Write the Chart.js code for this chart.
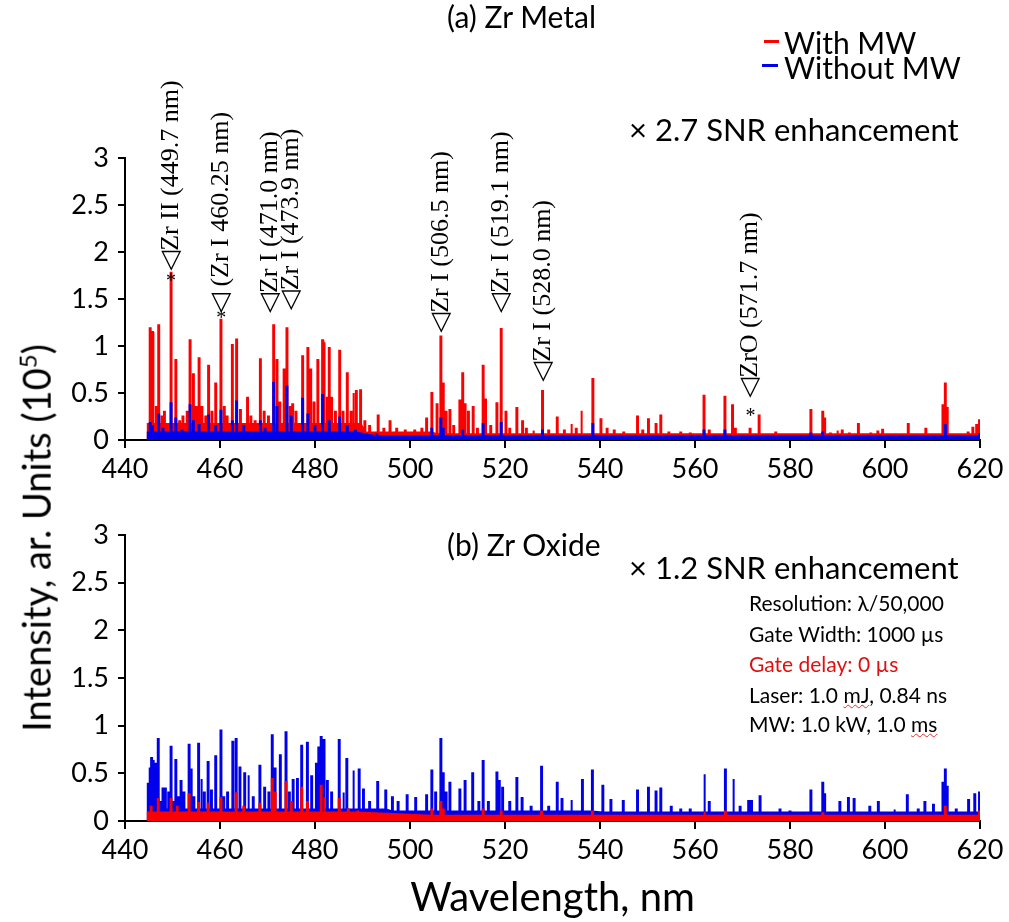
<!DOCTYPE html>
<html>
<head>
<meta charset="utf-8">
<script src="https://cdn.jsdelivr.net/npm/chart.js@4.4.1/dist/chart.umd.min.js"></script>
<style>
  body { margin: 0; background: #fff; width: 1009px; height: 922px; position: relative; overflow: hidden; font-family: Lato, sans-serif; }
  canvas { position: absolute; left: 0; }
  #topChart { top: 0; }
  #botChart { top: 480px; }
  .txt { position: absolute; white-space: nowrap; color: #000; line-height: 1; }
  .key { position: absolute; height: 3px; }
  .wavy { text-decoration: underline wavy #e03030; text-decoration-thickness: 1px; }
</style>
</head>
<body>
<canvas id="topChart" width="1009" height="480"></canvas>
<canvas id="botChart" width="1009" height="442"></canvas>

<div class="txt" style="left:447px;top:1px;font-size:30px;">(a) Zr Metal</div>
<div class="key" style="left:764px;top:40px;width:15px;background:#f00;"></div>
<div class="txt" style="left:784px;top:27px;font-size:30px;">With MW</div>
<div class="key" style="left:762px;top:64px;width:16px;background:#00e;"></div>
<div class="txt" style="left:784px;top:52px;font-size:30px;">Without MW</div>
<div class="txt" style="left:629px;top:114px;font-size:31px;">× 2.7 SNR enhancement</div>

<div class="txt" style="left:447px;top:529px;font-size:30px;">(b) Zr Oxide</div>
<div class="txt" style="left:629px;top:552px;font-size:31px;">× 1.2 SNR enhancement</div>
<div class="txt" style="left:749px;top:592px;font-size:21px;">Resolution: λ/50,000</div>
<div class="txt" style="left:749px;top:623px;font-size:21px;">Gate Width: 1000 µs</div>
<div class="txt" style="left:749px;top:653px;font-size:21px;color:#e01010;">Gate delay: 0 µs</div>
<div class="txt" style="left:749px;top:684px;font-size:21px;">Laser: 1.0 <span class="wavy">mJ</span>, 0.84 ns</div>
<div class="txt" style="left:749px;top:713px;font-size:21px;">MW: 1.0 kW, 1.0 <span class="wavy">ms</span></div>

<div class="txt" style="left:35px;top:538px;font-size:38px;transform:translate(-50%,-50%) rotate(-90deg);">Intensity, ar. Units (10<sup style="font-size:24px;">5</sup>)</div>

<script>
const wlMin = 440;
const wlMax = 620;
const wlStart = 444.8;
const yTicks = [0, 0.5, 1, 1.5, 2, 2.5, 3];

// (a) Zr metal, with MW: line centres (nm) and heights (10^5)
const metalWithWl = [445.3, 445.8, 446.0, 446.6, 447.1, 447.8, 448.3, 449.7, 450.7, 451.5, 452.2, 453.1, 453.7, 454.4, 455.0, 455.6, 456.2, 457.0, 457.6, 458.3, 459.1, 460.2, 460.9, 461.5, 462.6, 463.5, 464.3, 465.8, 466.5, 467.4, 468.5, 469.3, 470.2, 471.3, 472.0, 472.6, 473.5, 474.1, 474.8, 475.3, 476.0, 477.4, 478.5, 479.1, 479.8, 480.6, 481.6, 481.9, 482.6, 483.0, 483.5, 484.3, 485.2, 485.9, 486.8, 487.6, 488.1, 488.7, 489.6, 490.5, 491.5, 493.3, 494.5, 495.8, 497.2, 499.0, 501.0, 502.5, 503.5, 504.6, 505.7, 506.5, 507.0, 507.6, 508.4, 509.2, 510.5, 511.1, 511.6, 512.3, 513.3, 514.2, 515.4, 515.9, 517.0, 518.3, 519.2, 520.2, 521.0, 522.5, 523.7, 524.5, 526.0, 527.9, 529.2, 531.0, 532.5, 534.0, 535.0, 536.1, 538.5, 540.2, 541.5, 543.0, 545.0, 547.9, 549.0, 550.2, 551.8, 552.8, 554.5, 557.0, 559.0, 561.9, 563.0, 566.3, 567.9, 568.5, 571.6, 573.5, 577.0, 578.0, 580.5, 584.4, 586.9, 587.3, 588.5, 590.0, 591.0, 592.5, 594.4, 597.0, 598.5, 599.5, 602.0, 604.9, 606.5, 608.6, 610.0, 612.2, 612.7, 613.1, 615.0, 617.5, 618.5, 619.3, 619.9];
const metalWithI = [1.19, 1.15, 1.00, 0.35, 1.22, 0.25, 0.30, 1.78, 0.85, 0.20, 0.25, 0.30, 1.06, 0.70, 0.35, 0.87, 0.35, 0.25, 0.79, 0.30, 0.60, 1.28, 0.35, 0.25, 1.01, 1.07, 0.32, 0.45, 0.25, 0.20, 0.86, 0.30, 0.25, 1.22, 0.85, 0.40, 0.75, 1.19, 0.35, 0.38, 0.30, 0.89, 0.98, 0.75, 0.40, 0.85, 1.06, 1.03, 0.45, 0.98, 0.45, 0.30, 0.95, 0.30, 0.71, 0.30, 0.50, 0.52, 0.53, 0.20, 0.15, 0.26, 0.12, 0.20, 0.12, 0.10, 0.10, 0.12, 0.23, 0.50, 0.38, 1.10, 0.60, 0.30, 0.32, 0.15, 0.42, 0.71, 0.38, 0.30, 0.35, 0.12, 0.79, 0.43, 0.15, 0.39, 1.18, 0.30, 0.12, 0.34, 0.20, 0.12, 0.10, 0.52, 0.10, 0.24, 0.10, 0.17, 0.12, 0.31, 0.65, 0.22, 0.12, 0.10, 0.08, 0.25, 0.10, 0.22, 0.17, 0.26, 0.08, 0.08, 0.07, 0.47, 0.10, 0.46, 0.37, 0.12, 0.12, 0.26, 0.08, 0.07, 0.06, 0.32, 0.30, 0.23, 0.07, 0.10, 0.10, 0.07, 0.17, 0.07, 0.09, 0.11, 0.07, 0.17, 0.06, 0.12, 0.07, 0.37, 0.60, 0.34, 0.06, 0.08, 0.13, 0.16, 0.21];
const metalWithBg = [[440, 0.17], [490, 0.08], [505, 0.06]];

// (a) Zr metal, without MW
const metalWithoutWl = [445.3, 445.8, 447.1, 448.0, 449.7, 450.7, 452.0, 453.7, 454.4, 455.6, 457.6, 459.1, 460.2, 462.6, 463.5, 465.0, 468.5, 469.5, 471.3, 472.0, 474.1, 475.0, 477.4, 478.5, 480.0, 481.6, 483.0, 485.2, 486.8, 488.5, 493.0, 504.6, 506.5, 507.0, 511.1, 515.4, 519.2, 527.9, 538.5, 561.9, 566.3, 584.4, 586.9, 612.7, 619.9];
const metalWithoutI = [0.18, 0.15, 0.27, 0.12, 0.39, 0.23, 0.10, 0.37, 0.20, 0.16, 0.26, 0.15, 0.31, 0.20, 0.41, 0.15, 0.20, 0.12, 0.61, 0.35, 0.57, 0.25, 0.44, 0.27, 0.15, 0.48, 0.20, 0.24, 0.15, 0.10, 0.06, 0.12, 0.23, 0.12, 0.10, 0.17, 0.18, 0.10, 0.17, 0.10, 0.10, 0.07, 0.08, 0.16, 0.06];
const metalWithoutBg = [[440, 0.08], [490, 0.04]];

// (b) Zr oxide, without MW
const oxideWithoutWl = [444.9, 445.3, 445.6, 446.0, 446.4, 447.0, 447.6, 448.0, 448.5, 449.2, 449.7, 450.2, 450.7, 451.3, 451.8, 452.4, 453.5, 454.0, 454.5, 455.5, 456.1, 456.7, 457.5, 458.2, 459.1, 460.2, 460.8, 461.6, 462.7, 463.4, 464.2, 465.2, 466.0, 467.0, 468.4, 469.4, 470.3, 471.0, 471.6, 472.7, 473.9, 474.6, 475.4, 476.3, 477.2, 478.4, 479.3, 480.3, 480.8, 481.3, 481.9, 482.6, 483.5, 485.1, 486.0, 486.7, 488.1, 489.3, 490.2, 491.5, 493.2, 494.9, 496.3, 497.5, 499.4, 501.2, 503.5, 504.6, 505.4, 506.5, 507.0, 507.6, 508.4, 510.5, 511.6, 513.2, 514.5, 515.4, 516.5, 518.3, 518.8, 519.5, 521.0, 522.5, 523.6, 525.5, 527.7, 529.2, 531.0, 532.0, 534.0, 536.3, 538.4, 540.6, 542.3, 544.9, 547.9, 550.2, 551.8, 552.8, 555.0, 557.0, 559.0, 562.0, 563.0, 566.4, 568.1, 569.5, 571.3, 571.9, 573.7, 577.9, 580.0, 582.0, 584.4, 586.9, 587.3, 590.5, 592.3, 593.5, 596.8, 598.6, 602.0, 604.7, 607.0, 608.4, 610.2, 612.2, 612.7, 613.1, 615.0, 617.6, 618.9, 619.9];
const oxideWithoutI = [0.39, 0.55, 0.66, 0.64, 0.60, 0.86, 0.20, 0.34, 0.34, 0.30, 0.78, 0.20, 0.64, 0.25, 0.42, 0.30, 0.80, 0.55, 0.25, 0.81, 0.44, 0.30, 0.62, 0.32, 0.68, 0.95, 0.25, 0.30, 0.83, 0.86, 0.56, 0.50, 0.48, 0.25, 0.58, 0.35, 0.30, 0.90, 0.55, 0.69, 0.93, 0.30, 0.43, 0.44, 0.79, 0.82, 0.47, 0.60, 0.77, 0.88, 0.85, 0.42, 0.30, 0.85, 0.30, 0.65, 0.53, 0.54, 0.33, 0.20, 0.41, 0.32, 0.25, 0.20, 0.27, 0.24, 0.27, 0.53, 0.30, 0.86, 0.50, 0.30, 0.40, 0.33, 0.42, 0.50, 0.20, 0.63, 0.20, 0.51, 0.42, 0.35, 0.20, 0.45, 0.24, 0.15, 0.57, 0.15, 0.40, 0.23, 0.22, 0.43, 0.53, 0.37, 0.22, 0.21, 0.32, 0.35, 0.31, 0.34, 0.15, 0.12, 0.12, 0.49, 0.20, 0.54, 0.44, 0.15, 0.21, 0.21, 0.26, 0.12, 0.10, 0.10, 0.32, 0.40, 0.28, 0.20, 0.24, 0.23, 0.15, 0.20, 0.12, 0.27, 0.12, 0.20, 0.17, 0.40, 0.54, 0.36, 0.12, 0.22, 0.28, 0.30];
const oxideWithoutBg = [[440, 0.12], [495, 0.10], [540, 0.09]];

// (b) Zr oxide, with MW
const oxideWithWl = [445.5, 447.0, 449.7, 451.0, 453.5, 455.5, 457.5, 460.2, 463.4, 465.0, 468.4, 471.0, 471.6, 473.9, 475.0, 477.2, 478.4, 481.3, 482.0, 485.1, 487.0, 489.0, 504.6, 506.5, 507.0, 515.4, 519.2, 527.7, 538.4, 562.0, 566.4, 586.9, 612.7, 619.9];
const oxideWithI = [0.15, 0.23, 0.23, 0.15, 0.28, 0.19, 0.18, 0.24, 0.29, 0.15, 0.18, 0.44, 0.30, 0.41, 0.20, 0.35, 0.20, 0.37, 0.25, 0.23, 0.12, 0.10, 0.12, 0.20, 0.12, 0.12, 0.10, 0.10, 0.10, 0.10, 0.10, 0.08, 0.15, 0.10];
const oxideWithBg = [[440, 0.09], [490, 0.055]];

// line identifications in panel (a)
const annWl = [449.7, 460.25, 471.0, 473.9, 506.5, 519.1, 528.0, 571.7];
const annText = ['◁Zr II (449.7 nm)', '◁ (Zr I 460.25 nm)', '◁Zr I (471.0 nm)', '◁Zr I (473.9 nm)', '◁Zr I (506.5 nm)', '◁Zr I (519.1 nm)', '◁Zr I (528.0 nm)', '◁ZrO (571.7 nm)'];
const annFrom = [1.80, 1.35, 1.35, 1.38, 1.14, 1.35, 0.62, 0.45];
const starWl = [449.7, 460.25, 571.7];
const starAt = [1.73, 1.33, 0.29];

const annDx = [0, 0, -2, 5, 0, 0, 0, 0];
const red = 'rgb(250,0,0)';
const blue = 'rgb(0,0,235)';

function baseAt(bg, w) {
  let b = bg[0][1];
  bg.forEach(s => { if (w >= s[0]) b = s[1]; });
  return b;
}

// each line is a narrow flat-topped spike on the local background
function spectrum(wl, inten, bg) {
  const hw = 0.1;
  const pts = [{ x: wlStart, y: 0 }, { x: wlStart, y: baseAt(bg, wlStart) }];
  wl.forEach((w, i) => {
    const b = baseAt(bg, w);
    pts.push({ x: w - hw, y: b }, { x: w - hw, y: inten[i] }, { x: w + hw, y: inten[i] }, { x: w + hw, y: b });
  });
  pts.push({ x: wlMax, y: baseAt(bg, wlMax) });
  return pts;
}

function lineSet(pts, color) {
  return {
    data: pts,
    borderColor: color,
    backgroundColor: color,
    borderWidth: 2,
    borderJoinStyle: 'miter',
    fill: 'origin',
    pointRadius: 0,
    tension: 0
  };
}

function scales(xHeight, withTitle) {
  return {
    x: {
      type: 'linear',
      min: wlMin,
      max: wlMax,
      afterBuildTicks: s => { s.ticks = []; for (let v = wlMin; v <= wlMax; v += 20) s.ticks.push({ value: v }); },
      afterFit: s => { s.height = xHeight; },
      ticks: { color: '#000', font: { size: 27 }, padding: 5, maxRotation: 0, autoSkip: false },
      grid: { drawOnChartArea: false, drawTicks: true, tickLength: 8, color: '#000', lineWidth: 2 },
      border: { color: '#000', width: 2 },
      title: { display: withTitle, text: 'Wavelength, nm', color: '#000', font: { size: 40 }, padding: { top: 0, bottom: 0 } }
    },
    y: {
      min: 0,
      max: 3,
      afterBuildTicks: s => { s.ticks = yTicks.map(v => ({ value: v })); },
      afterFit: s => { s.width = 125; },
      ticks: { color: '#000', font: { size: 27 }, padding: 9, callback: v => String(v) },
      grid: { drawOnChartArea: false, drawTicks: true, tickLength: 7, color: '#000', lineWidth: 2 },
      border: { color: '#000', width: 2 }
    }
  };
}

const annotate = {
  id: 'annotate',
  afterDraw(chart) {
    const ctx = chart.ctx;
    const xs = chart.scales.x;
    const ys = chart.scales.y;
    ctx.save();
    ctx.fillStyle = '#000';
    ctx.font = '26px "Liberation Serif", "DejaVu Serif", serif';
    ctx.textAlign = 'left';
    ctx.textBaseline = 'middle';
    annWl.forEach((w, i) => {
      const x = xs.getPixelForValue(w) + annDx[i];
      const y = ys.getPixelForValue(annFrom[i]);
      ctx.save();
      ctx.translate(x, y);
      ctx.rotate(-Math.PI / 2);
      ctx.fillText(annText[i], 0, 0);
      ctx.restore();
    });
    ctx.font = '20px "Liberation Serif", serif';
    ctx.textAlign = 'center';
    starWl.forEach((w, i) => {
      ctx.fillText('*', xs.getPixelForValue(w), ys.getPixelForValue(starAt[i]) + 4);
    });
    ctx.restore();
  }
};

Chart.defaults.font.family = 'Lato, sans-serif';

new Chart(document.getElementById('topChart'), {
  type: 'line',
  data: {
    datasets: [
      lineSet(spectrum(metalWithoutWl, metalWithoutI, metalWithoutBg), blue),
      lineSet(spectrum(metalWithWl, metalWithI, metalWithBg), red)
    ]
  },
  options: {
    responsive: false,
    animation: false,
    layout: { padding: { top: 158, right: 29, left: 0, bottom: 0 } },
    plugins: { legend: { display: false }, tooltip: { enabled: false } },
    scales: scales(40, false)
  },
  plugins: [annotate]
});

new Chart(document.getElementById('botChart'), {
  type: 'line',
  data: {
    datasets: [
      lineSet(spectrum(oxideWithWl, oxideWithI, oxideWithBg), red),
      lineSet(spectrum(oxideWithoutWl, oxideWithoutI, oxideWithoutBg), blue)
    ]
  },
  options: {
    responsive: false,
    animation: false,
    layout: { padding: { top: 55, right: 29, left: 0, bottom: 0 } },
    plugins: { legend: { display: false }, tooltip: { enabled: false } },
    scales: scales(101, true)
  }
});
</script>
</body>
</html>
